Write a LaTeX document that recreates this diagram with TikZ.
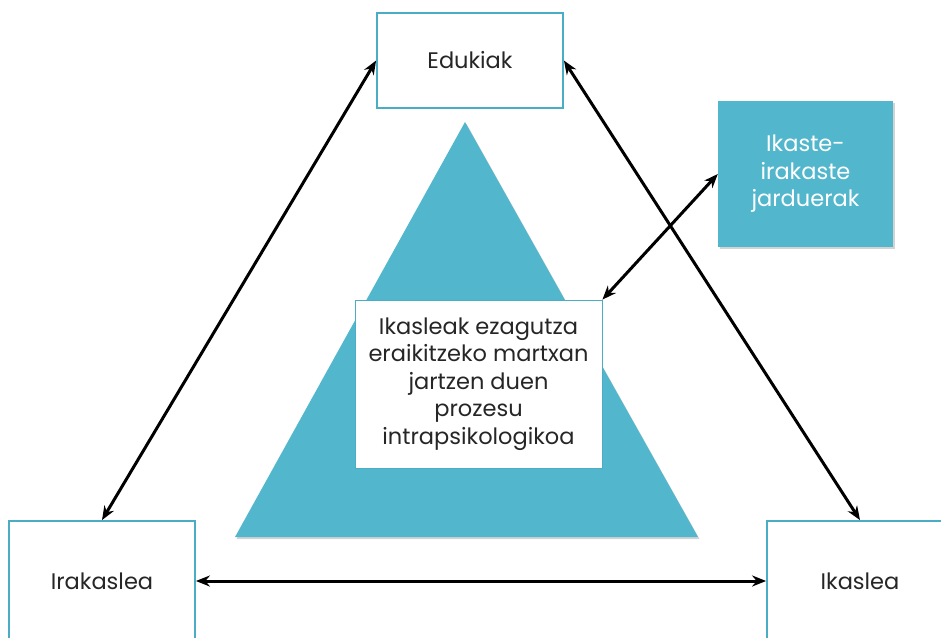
\documentclass[tikz,border=0pt]{standalone}
\usepackage{fontspec}
\setmainfont{Poppins}
\usetikzlibrary{arrows.meta,shadows}
\definecolor{teal}{RGB}{75,172,198}
\definecolor{tealfill}{RGB}{82,183,204}
\begin{document}
\begin{tikzpicture}[x=1pt,y=-1pt,
  every node/.style={font=\fontsize{22.5}{27.5}\selectfont\color{black!85}},
  framebox/.style={draw=teal,line width=1.8pt,fill=white,minimum width=186pt,inner sep=0pt,align=center},
  darkbox/.style={draw=none,fill=tealfill,minimum width=175pt,minimum height=146pt,align=center,
    drop shadow={shadow xshift=1.5pt,shadow yshift=-2pt,opacity=0.35}},
  link/.style={line width=3pt,{Stealth[length=14pt,width=11pt]}-{Stealth[length=14pt,width=11pt]}}]
\useasboundingbox (0,0) rectangle (941,637);
\begin{scope}
\clip (0,0) rectangle (941,637);
% central pyramid
\fill[tealfill,drop shadow={shadow xshift=1.5pt,shadow yshift=-2pt,opacity=0.35}]
  (465,122) -- (698,537) -- (235,537) -- cycle;
% boxes
\node[framebox,minimum height=95pt] (edukiak) at (470,60.5) {Edukiak};
\node[framebox,minimum height=120pt] (irakaslea) at (102,581) {Irakaslea};
\node[framebox,minimum height=120pt] (ikaslea) at (860,581) {Ikaslea};
\node[darkbox] (jarduerak) at (805.5,174) {\color{white}Ikaste-\\\color{white}irakaste\\\color{white}jarduerak};
\node[draw=teal,line width=0.8pt,fill=white,minimum width=247pt,minimum height=168pt,inner sep=0pt,align=center]
  (proc) at (478.5,384) {Ikasleak ezagutza\\eraikitzeko martxan\\jartzen duen\\prozesu\\intrapsikologikoa};
% connectors
\draw[link] (edukiak.west) -- (irakaslea.north);
\draw[link] (edukiak.east) -- (ikaslea.north);
\draw[link] (irakaslea.east) -- (ikaslea.west);
\draw[link] (jarduerak.west) -- (proc.north east);
\end{scope}
\end{tikzpicture}
\end{document}
